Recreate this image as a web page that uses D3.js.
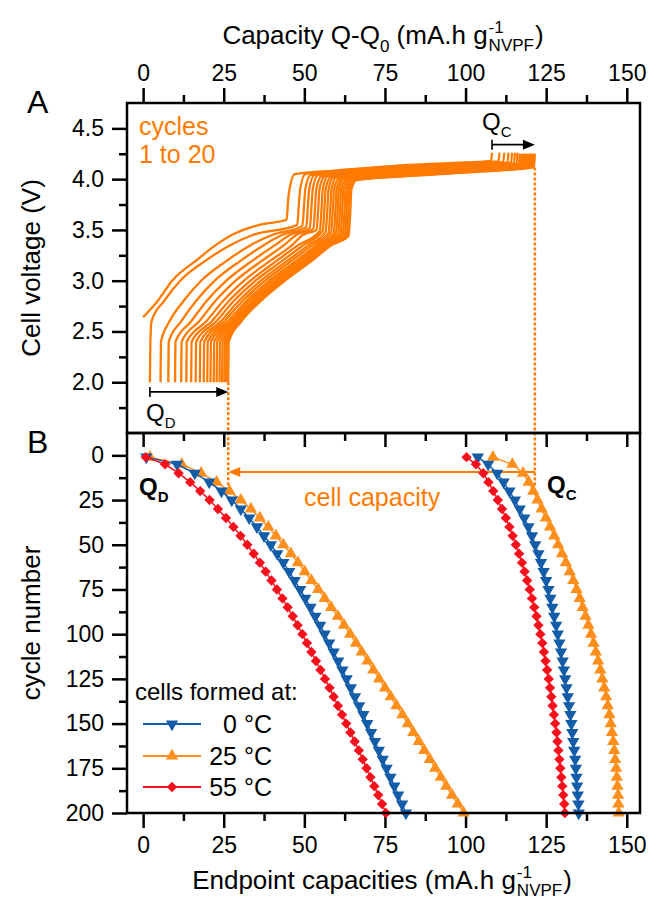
<!DOCTYPE html>
<html>
<head>
<meta charset="utf-8">
<script src="https://cdn.jsdelivr.net/npm/d3@7"></script>
<style>
  body { margin: 0; background: #fff; }
  svg { display: block; }
  text { white-space: pre; }
</style>
</head>
<body>
<svg id="chart" width="652" height="901"></svg>
<script>
// ---------------- data ----------------
const capacityTicks = [0, 25, 50, 75, 100, 125, 150];
const capacityMinor = [12.5, 37.5, 62.5, 87.5, 112.5, 137.5];
const voltageTicks = [2.0, 2.5, 3.0, 3.5, 4.0, 4.5];
const voltageMinor = [1.75, 2.25, 2.75, 3.25, 3.75, 4.25];
const cycleTicks = [0, 25, 50, 75, 100, 125, 150, 175, 200];
const cycleMinor = [12.5, 37.5, 62.5, 87.5, 112.5, 137.5, 162.5, 187.5];

// charge curves of cycles 1 to 20: [Q - Q0 (mA.h/g), cell voltage (V)]
const chargeCurves = [
  [[0,2.64],[4.5,2.8],[9,3.0],[16.5,3.2],[22.5,3.35],[27.5,3.45],[36,3.55],[44.5,3.6],[45.0,3.8],[45.4,3.9],[47.0,4.05],[60,4.085],[80,4.135],[100,4.165],[107.9,4.18],[108.2,4.26]],
  [[2.1,2.0],[2.25,2.4],[2.6,2.6],[6.5,2.8],[11.5,3.0],[19.5,3.2],[27,3.35],[34,3.45],[47.8,3.55],[48.3,3.75],[48.7,3.9],[50.3,4.05],[80,4.125],[100,4.16],[110.2,4.175],[110.5,4.26]],
  [[5.4,2.0],[5.55,2.4],[8.2,2.6],[12.5,2.8],[18.0,3.0],[26.1,3.2],[33.3,3.35],[40.0,3.45],[49.4,3.54],[49.9,3.74],[50.3,3.9],[51.9,4.04],[80,4.12],[100,4.155],[111.7,4.17],[112.0,4.26]],
  [[7.8,2.0],[7.95,2.4],[11.8,2.6],[16.4,2.8],[22.2,3.0],[30.4,3.2],[37.4,3.35],[43.0,3.45],[50.6,3.53],[51.1,3.73],[51.5,3.9],[53.1,4.04],[80,4.11],[100,4.145],[113.0,4.165],[113.3,4.26]],
  [[9.9,2.0],[10.05,2.4],[14.9,2.6],[19.7,2.8],[25.8,3.0],[34.0,3.2],[40.9,3.35],[45.5,3.45],[51.7,3.52],[52.2,3.72],[52.6,3.9],[54.2,4.04],[80,4.105],[100,4.14],[114.1,4.16],[114.4,4.26]],
  [[11.8,2.0],[11.95,2.4],[17.4,2.6],[22.4,2.8],[28.7,3.0],[37.0,3.2],[43.7,3.35],[47.5,3.45],[52.8,3.51],[53.3,3.71],[53.7,3.9],[55.3,4.03],[80,4.10],[100,4.135],[115.0,4.155],[115.3,4.26]],
  [[13.4,2.0],[13.55,2.4],[19.6,2.6],[24.8,2.8],[31.3,3.0],[39.6,3.2],[46.2,3.35],[49.5,3.45],[53.8,3.50],[54.3,3.70],[54.7,3.9],[56.3,4.03],[80,4.09],[100,4.13],[115.8,4.15],[116.1,4.26]],
  [[14.9,2.0],[15.05,2.4],[21.3,2.6],[26.6,2.8],[33.3,3.0],[41.6,3.2],[48.1,3.35],[54.8,3.49],[55.3,3.69],[55.7,3.9],[57.3,4.03],[80,4.085],[100,4.12],[116.5,4.15],[116.8,4.25]],
  [[16.3,2.0],[16.45,2.4],[22.7,2.6],[28.1,2.8],[34.9,3.0],[43.3,3.2],[49.7,3.35],[55.7,3.49],[56.2,3.69],[56.6,3.9],[58.2,4.02],[80,4.08],[100,4.115],[117.1,4.145],[117.4,4.25]],
  [[17.6,2.0],[17.75,2.4],[24.1,2.6],[29.6,2.8],[36.5,3.0],[44.9,3.2],[51.3,3.35],[56.6,3.48],[57.1,3.68],[57.5,3.9],[59.1,4.02],[80,4.075],[100,4.11],[117.6,4.14],[117.9,4.25]],
  [[18.8,2.0],[18.95,2.4],[25.2,2.6],[30.8,2.8],[37.8,3.0],[46.2,3.2],[52.5,3.35],[57.5,3.47],[58.0,3.67],[58.4,3.9],[60.0,4.02],[80,4.07],[100,4.105],[118.1,4.14],[118.4,4.25]],
  [[19.9,2.0],[20.05,2.4],[26.3,2.6],[32.0,2.8],[39.1,3.0],[47.6,3.2],[53.8,3.35],[58.3,3.47],[58.8,3.67],[59.2,3.9],[60.8,4.01],[80,4.065],[100,4.10],[118.5,4.135],[118.8,4.25]],
  [[20.9,2.0],[21.05,2.4],[27.2,2.6],[32.9,2.8],[40.1,3.0],[48.5,3.2],[54.7,3.35],[59.1,3.46],[59.6,3.66],[60.0,3.9],[61.6,4.01],[80,4.06],[100,4.095],[118.9,4.135],[119.2,4.25]],
  [[21.9,2.0],[22.05,2.4],[28.0,2.6],[33.8,2.8],[41.1,3.0],[49.5,3.2],[55.7,3.35],[59.8,3.46],[60.3,3.66],[60.7,3.9],[62.3,4.01],[80,4.055],[100,4.09],[119.3,4.13],[119.6,4.25]],
  [[22.8,2.0],[22.95,2.4],[28.5,2.6],[34.4,2.8],[41.7,3.0],[50.2,3.2],[56.3,3.35],[60.5,3.45],[61.0,3.65],[61.4,3.9],[63.0,4.00],[80,4.05],[100,4.085],[119.7,4.13],[120.0,4.25]],
  [[23.7,2.0],[23.85,2.4],[29.1,2.6],[35.0,2.8],[42.4,3.0],[50.9,3.2],[56.9,3.35],[61.2,3.45],[61.7,3.65],[62.1,3.9],[63.7,4.00],[80,4.045],[100,4.08],[120.0,4.125],[120.3,4.25]],
  [[24.5,2.0],[24.65,2.4],[29.7,2.6],[35.6,2.8],[43.0,3.0],[51.5,3.2],[57.6,3.35],[61.9,3.45],[62.4,3.65],[62.8,3.9],[64.4,4.00],[80,4.04],[100,4.08],[120.3,4.125],[120.6,4.25]],
  [[25.2,2.0],[25.35,2.4],[29.9,2.6],[35.9,2.8],[43.4,3.0],[51.8,3.2],[57.9,3.35],[62.5,3.44],[63.0,3.64],[63.4,3.9],[65.0,3.99],[80,4.035],[100,4.075],[120.6,4.12],[120.9,4.25]],
  [[25.8,2.0],[25.95,2.4],[30.2,2.6],[36.2,2.8],[43.7,3.0],[52.2,3.2],[58.2,3.35],[63.1,3.44],[63.6,3.64],[64.0,3.9],[65.6,3.99],[80,4.03],[100,4.07],[120.9,4.12],[121.2,4.25]],
  [[26.4,2.0],[26.55,2.4],[30.5,2.6],[36.5,2.8],[44.0,3.0],[52.5,3.2],[58.5,3.35],[63.7,3.44],[64.2,3.64],[64.6,3.9],[66.2,3.99],[80,4.025],[100,4.065],[121.2,4.115],[121.5,4.25]]
];

// endpoint capacities vs cycle number, for three formation temperatures
const cycleNumbers = [1,5,10,15,20,25,30,35,40,45,50,55,60,65,70,75,80,85,90,95,100,
  105,110,115,120,125,130,135,140,145,150,155,160,165,170,175,180,185,190,195,200];
const qd0C = [1.0,10.5,16.0,20.5,24.3,27.5,30.3,32.9,35.3,37.5,39.6,41.6,43.5,45.3,47.0,48.7,50.3,51.9,53.4,54.9,56.3,
  57.7,59.1,60.5,61.8,63.1,64.4,65.7,67.0,68.3,69.5,70.7,71.9,73.1,74.3,75.5,76.7,77.9,79.1,80.3,81.5];
const qd25C = [2.1,12.0,18.0,22.8,26.8,30.3,33.4,36.2,38.8,41.2,43.5,45.8,48.0,50.1,52.2,54.3,56.3,58.3,60.4,62.3,64.2,
  66.0,67.8,69.6,71.4,73.2,75.0,76.8,78.6,80.4,82.1,83.8,85.5,87.2,88.9,90.6,92.3,94.0,95.8,97.6,99.4];
const qd55C = [0.8,6.8,11.0,14.6,17.7,20.6,23.2,25.7,28.0,30.2,32.3,34.3,36.2,38.0,39.8,41.5,43.2,44.8,46.4,47.9,49.4,
  50.8,52.2,53.6,55.0,56.4,57.8,59.1,60.4,61.7,63.0,64.3,65.6,66.9,68.1,69.3,70.5,71.7,72.9,74.1,75.3];
const qc0C = [103.8,107.0,109.8,111.8,113.6,115.3,116.8,118.2,119.5,120.6,121.6,122.6,123.4,124.2,125.0,125.7,126.3,126.9,127.5,128.1,128.6,
  129.1,129.6,130.1,130.5,130.9,131.3,131.7,132.1,132.5,132.8,133.1,133.4,133.7,134.0,134.2,134.4,134.6,134.8,135.0,135.1];
const qc25C = [108.5,114.5,117.8,119.6,121.0,122.3,123.6,124.9,126.2,127.5,128.7,129.9,131.1,132.3,133.4,134.4,135.4,136.3,137.2,138.1,138.9,
  139.7,140.4,141.1,141.8,142.4,143.0,143.6,144.1,144.6,145.0,145.4,145.8,146.1,146.4,146.7,146.9,147.1,147.3,147.4,147.5];
const qc55C = [100.3,103.2,105.5,107.1,108.6,110.0,111.3,112.5,113.6,114.6,115.6,116.6,117.5,118.3,119.1,119.9,120.6,121.3,122.0,122.6,123.2,
  123.8,124.3,124.8,125.3,125.8,126.2,126.6,127.0,127.4,127.8,128.2,128.5,128.8,129.1,129.4,129.7,130.0,130.3,130.6,130.8];

const legendLabels = ['0 °C', '25 °C', '55 °C'];

// ---------------- layout & styles ----------------
const font = '"Liberation Sans", Arial, Helvetica, sans-serif';
const orangeA = '#ff7a00';
const orangeB = '#ff8f1c';
const blue = '#135ca8';
const red = '#f5101c';
const box = { left: 127, right: 640, topA: 103, mid: 433, bottomB: 813 };
const tickFont = 23;

const svg = d3.select('#chart');

const x = d3.scaleLinear().domain([-5, 154.1]).range([box.left, box.right]);
const yA = d3.scaleLinear().domain([1.5, 4.75]).range([box.mid, box.topA]);
const yB = d3.scaleLinear().domain([-12.5, 200]).range([box.mid, box.bottomB]);

svg.append('defs').append('clipPath').attr('id', 'clipA')
  .append('rect').attr('x', box.left).attr('y', box.topA)
  .attr('width', box.right - box.left).attr('height', box.mid - box.topA);

function styleAxis(g) {
  g.select('.domain').remove();
  g.selectAll('.tick line').attr('stroke', '#000').attr('stroke-width', 2.5);
  g.selectAll('.tick text').attr('font-size', tickFont).attr('font-family', font).attr('fill', '#000');
}

// ---------- axes ----------
// top capacity axis (panel A)
svg.append('g').attr('transform', `translate(0,${box.topA})`)
  .call(d3.axisTop(x).tickValues(capacityTicks).tickSize(15).tickPadding(7).tickFormat(d3.format('d')))
  .call(styleAxis);
svg.append('g').attr('transform', `translate(0,${box.topA})`)
  .call(d3.axisTop(x).tickValues(capacityMinor).tickSize(8).tickFormat(''))
  .call(styleAxis);
// ticks on the shared boundary, hanging into panel B
svg.append('g').attr('transform', `translate(0,${box.mid})`)
  .call(d3.axisBottom(x).tickValues(capacityTicks).tickSize(14).tickFormat(''))
  .call(styleAxis);
svg.append('g').attr('transform', `translate(0,${box.mid})`)
  .call(d3.axisBottom(x).tickValues(capacityMinor).tickSize(8).tickFormat(''))
  .call(styleAxis);
// bottom capacity axis (panel B)
svg.append('g').attr('transform', `translate(0,${box.bottomB})`)
  .call(d3.axisBottom(x).tickValues(capacityTicks).tickSize(15).tickPadding(9).tickFormat(d3.format('d')))
  .call(styleAxis);
svg.append('g').attr('transform', `translate(0,${box.bottomB})`)
  .call(d3.axisBottom(x).tickValues(capacityMinor).tickSize(8).tickFormat(''))
  .call(styleAxis);
// voltage axis
svg.append('g').attr('transform', `translate(${box.left},0)`)
  .call(d3.axisLeft(yA).tickValues(voltageTicks).tickSize(15).tickPadding(8).tickFormat(d3.format('.1f')))
  .call(styleAxis);
svg.append('g').attr('transform', `translate(${box.left},0)`)
  .call(d3.axisLeft(yA).tickValues(voltageMinor).tickSize(8).tickFormat(''))
  .call(styleAxis);
// cycle axis
svg.append('g').attr('transform', `translate(${box.left},0)`)
  .call(d3.axisLeft(yB).tickValues(cycleTicks).tickSize(15).tickPadding(8).tickFormat(d3.format('d')))
  .call(styleAxis);
svg.append('g').attr('transform', `translate(${box.left},0)`)
  .call(d3.axisLeft(yB).tickValues(cycleMinor).tickSize(8).tickFormat(''))
  .call(styleAxis);

// ---------- panel A: charge curves ----------
const chargeLine = d3.line().x(d => x(d[0])).y(d => yA(d[1])).curve(d3.curveMonotoneX);
svg.append('g').attr('clip-path', 'url(#clipA)')
  .selectAll('path').data(chargeCurves).join('path')
  .attr('d', chargeLine)
  .attr('fill', 'none').attr('stroke', orangeA).attr('stroke-width', 2.3)
  .attr('stroke-linejoin', 'round');

// dotted guides linking the last cycle's endpoints to panel B
const lastCurve = chargeCurves[chargeCurves.length - 1];
const qdLast = lastCurve[0][0];
const qcLast = lastCurve[lastCurve.length - 1][0];
const guides = svg.append('g').attr('stroke', orangeA).attr('stroke-width', 2.5)
  .attr('stroke-dasharray', '3,2').attr('fill', 'none');
guides.append('line').attr('x1', x(qdLast)).attr('x2', x(qdLast))
  .attr('y1', yA(lastCurve[0][1])).attr('y2', yB(18));
guides.append('line').attr('x1', x(qcLast)).attr('x2', x(qcLast))
  .attr('y1', yA(lastCurve[lastCurve.length - 2][1])).attr('y2', yB(18));

// arrow helper: bar at start (optional) + filled head at end
function hArrow(g, x1, x2, y, color, width, bar) {
  const dir = Math.sign(x2 - x1);
  const headL = 12, headW = 5;
  g.append('line').attr('x1', x1).attr('x2', x2 - dir * headL * 0.8).attr('y1', y).attr('y2', y)
    .attr('stroke', color).attr('stroke-width', width);
  g.append('path')
    .attr('d', `M${x2},${y}L${x2 - dir * headL},${y - headW}L${x2 - dir * headL},${y + headW}Z`)
    .attr('fill', color);
  if (bar) {
    g.append('line').attr('x1', x1).attr('x2', x1).attr('y1', y - 5).attr('y2', y + 5)
      .attr('stroke', color).attr('stroke-width', width);
  }
}
const ann = svg.append('g');
hArrow(ann, x(chargeCurves[1][0][0]), x(qdLast), yA(1.905), '#000', 1.6, true);
hArrow(ann, x(chargeCurves[0][chargeCurves[0].length - 1][0]), x(qcLast), yA(4.34), '#000', 1.6, true);
hArrow(ann, x(qcLast), x(qdLast), yB(9.3), orangeA, 2, false);

// rich text helper (subscripts / stacked super+subscripts); fonts are set before measuring
function richText(parent, parts, px, py, size, anchor, opts = {}) {
  const g = parent.append('g');
  let cursor = 0;
  const small = Math.round(size * 0.64);
  const mk = (tx, ty, fs, str) => g.append('text').attr('x', tx).attr('y', ty)
    .attr('font-family', font).attr('font-size', fs)
    .attr('font-weight', opts.bold ? 'bold' : 'normal')
    .style('white-space', 'pre')
    .attr('fill', opts.color || '#000').text(str);
  parts.forEach(p => {
    if (p.stack) {
      const a = mk(cursor + 1, -size * 0.42, small, p.stack[0]);
      const b = mk(cursor + 1, size * 0.28, small, p.stack[1]);
      cursor += 2 + Math.max(a.node().getComputedTextLength(), b.node().getComputedTextLength());
    } else {
      const t = mk(cursor, p.sub ? size * 0.3 : 0, p.sub ? small : size, p.t);
      cursor += t.node().getComputedTextLength();
    }
  });
  const off = anchor === 'middle' ? -cursor / 2 : (anchor === 'end' ? -cursor : 0);
  g.attr('transform', `translate(${px + off},${py})`);
  return g;
}

// panel A texts
const tA = svg.append('g').attr('font-family', font);
tA.append('text').attr('x', 139).attr('y', 135).attr('font-size', 25).attr('fill', orangeA).text('cycles');
tA.append('text').attr('x', 139).attr('y', 163).attr('font-size', 25).attr('fill', orangeA).text('1 to 20');
richText(svg, [{ t: 'Q' }, { t: 'D', sub: true }], 146, 421, 24, 'start');
richText(svg, [{ t: 'Q' }, { t: 'C', sub: true }], 482, 130, 24, 'start');

// ---------- panel B: endpoint capacities ----------
const seriesB = [
  { color: orangeB, sym: 'up', qd: qd25C, qc: qc25C },
  { color: blue, sym: 'down', qd: qd0C, qc: qc0C },
  { color: red, sym: 'diamond', qd: qd55C, qc: qc55C }
];
const symPath = {
  up: d3.symbol(d3.symbolTriangle, 66)(),
  down: d3.symbol(d3.symbolTriangle, 66)(),
  diamond: d3.symbol(d3.symbolSquare, 54)()
};
const symRotate = { up: 0, down: 180, diamond: 45 };

const gB = svg.append('g');
seriesB.forEach(s => {
  [s.qd, s.qc].forEach(vals => {
    const pts = cycleNumbers.map((c, i) => [vals[i], c]);
    gB.append('path').datum(pts)
      .attr('d', d3.line().x(d => x(d[0])).y(d => yB(d[1])))
      .attr('fill', 'none').attr('stroke', s.color).attr('stroke-width', 1.5);
    gB.append('g').selectAll('path').data(pts).join('path')
      .attr('d', symPath[s.sym])
      .attr('transform', d => `translate(${x(d[0])},${yB(d[1])}) rotate(${symRotate[s.sym]})`)
      .attr('fill', s.color);
  });
});

// panel B texts
svg.append('text').attr('x', 304).attr('y', 506).attr('font-size', 25).attr('font-family', font)
  .attr('fill', orangeA).text('cell capacity');
richText(svg, [{ t: 'Q' }, { t: 'D', sub: true }], 139, 495, 24, 'start', { bold: true });
richText(svg, [{ t: 'Q' }, { t: 'C', sub: true }], 547, 493, 24, 'start', { bold: true });

// legend
const leg = svg.append('g').attr('font-family', font);
leg.append('text').attr('x', 135).attr('y', 700).attr('font-size', 24).text('cells formed at:');
const legendSeries = [seriesB[1], seriesB[0], seriesB[2]];
const legendY = [724, 756, 787];
legendSeries.forEach((s, i) => {
  const yy = legendY[i];
  leg.append('line').attr('x1', 143).attr('x2', 201).attr('y1', yy).attr('y2', yy)
    .attr('stroke', s.color).attr('stroke-width', 2);
  leg.append('path').attr('d', symPath[s.sym])
    .attr('transform', `translate(172,${yy}) rotate(${symRotate[s.sym]})`).attr('fill', s.color);
  leg.append('text').attr('x', 272).attr('y', yy + 9).attr('text-anchor', 'end')
    .attr('font-size', 25).text(legendLabels[i]);
});

// ---------- frames ----------
svg.append('rect').attr('x', box.left).attr('y', box.topA)
  .attr('width', box.right - box.left).attr('height', box.mid - box.topA)
  .attr('fill', 'none').attr('stroke', '#000').attr('stroke-width', 2.5);
svg.append('rect').attr('x', box.left).attr('y', box.mid)
  .attr('width', box.right - box.left).attr('height', box.bottomB - box.mid)
  .attr('fill', 'none').attr('stroke', '#000').attr('stroke-width', 2.5);

// ---------- titles ----------
richText(svg, [{ t: 'Capacity Q-Q' }, { t: '0', sub: true }, { t: ' (mA.h g' }, { stack: ['-1', 'NVPF'] }, { t: ')' }],
  383, 44, 26, 'middle');
richText(svg, [{ t: 'Endpoint capacities (mA.h g' }, { stack: ['-1', 'NVPF'] }, { t: ')' }],
  382, 889, 26, 'middle');
svg.append('text').attr('transform', `translate(40,${(box.topA + box.mid) / 2}) rotate(-90)`)
  .attr('text-anchor', 'middle').attr('font-size', 26).attr('font-family', font).text('Cell voltage (V)');
svg.append('text').attr('transform', `translate(40,${(box.mid + box.bottomB) / 2}) rotate(-90)`)
  .attr('text-anchor', 'middle').attr('font-size', 26).attr('font-family', font).text('cycle number');
svg.append('text').attr('x', 27).attr('y', 113).attr('font-size', 32).attr('font-family', font).text('A');
svg.append('text').attr('x', 27).attr('y', 453).attr('font-size', 32).attr('font-family', font).text('B');
</script>
</body>
</html>
